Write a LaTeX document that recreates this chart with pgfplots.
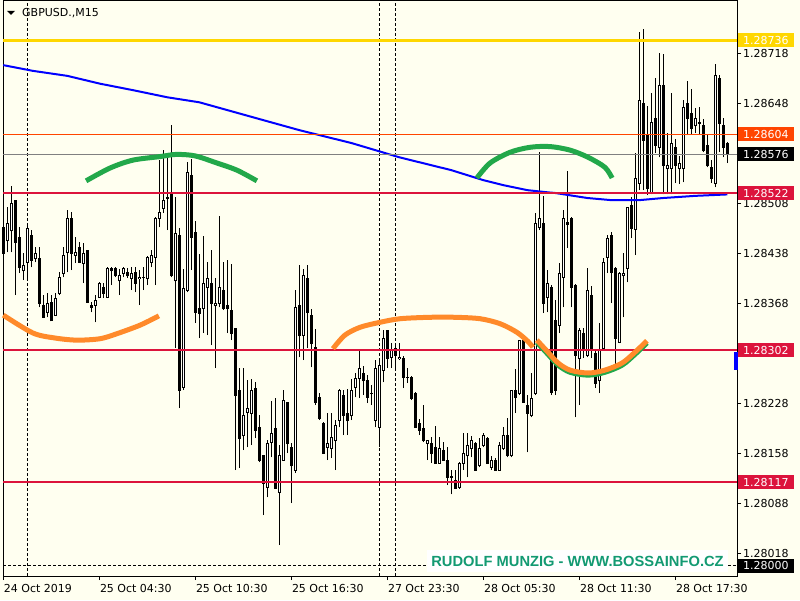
\documentclass[border=0pt]{standalone}
\usepackage{pgfplots}
\pgfplotsset{compat=1.18}
\usepackage{pgfplotstable}
\usepackage{fontspec}
\setmainfont{DejaVu Sans}
\newfontfamily\wmfont{Liberation Sans}
\definecolor{bg}{HTML}{FFFFF0}
\definecolor{mtgold}{HTML}{FFD700}
\definecolor{mtorange}{HTML}{FF4500}
\definecolor{mtcrimson}{HTML}{DC143C}
\definecolor{arcgreen}{HTML}{22A84A}
\definecolor{arcorange}{HTML}{FF8A2A}
\definecolor{wm}{HTML}{139A72}
% prices stored as (price - 1.28) * 100000
\pgfplotstableread{
i o h l c
0 474 477 435 438
1 455 502 439 480
2 469 532 439 508
3 511 512 379 453
4 460 474 410 418
5 413 438 400 421
6 425 477 403 472
7 462 470 418 428
8 430 446 425 437
9 430 446 362 368
10 365 379 347 348
11 355 382 348 368
12 369 379 343 343
13 351 382 350 375
14 381 411 379 404
15 409 446 404 435
16 439 498 411 487
17 487 495 414 438
18 435 460 424 439
19 446 453 424 425
20 424 452 396 438
21 441 442 368 369
22 365 369 355 362
23 365 379 341 372
24 376 397 375 395
25 390 396 375 381
26 376 418 375 416
27 416 418 393 413
28 416 418 404 406
29 399 416 379 406
30 410 418 404 416
31 411 417 403 406
32 402 418 386 410
33 411 418 383 396
34 402 414 365 404
35 404 418 386 404
36 402 434 393 432
37 425 442 418 434
38 432 488 393 487
39 486 568 474 495
40 501 582 494 511
41 516 578 470 514
42 522 617 404 406
43 399 516 305 466
44 462 473 221 246
45 250 416 246 389
46 386 565 383 551
47 547 570 414 460
48 467 483 340 355
49 361 437 319 354
50 360 462 326 395
51 390 425 323 402
52 396 442 309 368
53 364 403 277 368
54 367 490 362 390
55 386 425 358 360
56 364 428 326 361
57 357 423 316 326
58 332 333 134 239
59 245 277 137 179
60 182 277 162 210
61 215 260 166 221
62 214 262 169 245
63 249 257 179 190
64 194 211 145 148
65 154 155 71 116
66 110 176 96 171
67 173 231 152 185
68 193 235 109 109
69 103 169 29 154
70 148 246 148 231
71 229 230 158 171
72 166 172 88 140
73 134 386 130 362
74 365 421 292 322
75 323 416 288 406
76 402 421 305 355
77 351 360 278 311
78 306 332 225 229
79 236 242 204 206
80 200 201 158 158
81 166 214 148 171
82 164 214 151 180
83 175 204 134 197
84 204 248 194 246
85 239 246 183 211
86 213 248 183 203
87 210 262 204 246
88 250 270 236 263
89 262 302 235 277
90 270 280 239 259
91 260 267 228 236
92 241 253 225 241
93 204 288 194 276
94 194 288 166 280
95 274 330 257 319
96 329 330 277 291
97 292 312 277 302
98 305 312 274 295
99 290 312 288 292
100 291 294 249 264
101 264 277 256 264
102 264 266 232 235
103 241 243 193 194
104 199 206 183 190
105 193 225 173 175
106 172 176 148 176
107 172 180 144 158
108 166 196 144 144
109 144 180 144 165
110 161 173 148 148
111 148 166 113 124
112 124 134 100 125
113 120 134 108 109
114 110 145 108 144
115 144 186 134 158
116 154 186 124 169
117 164 182 152 176
118 171 173 133 134
119 140 179 138 165
120 169 186 166 183
121 179 180 144 144
122 138 154 134 148
123 148 151 134 134
124 134 173 134 169
125 164 194 162 183
126 183 207 152 155
127 154 246 152 245
128 245 276 214 236
129 241 316 239 315
130 315 316 229 229
131 225 239 159 214
132 210 270 208 235
133 241 494 239 480
134 474 579 470 486
135 480 518 354 368
136 376 414 355 396
137 390 393 239 243
138 344 372 239 246
139 337 424 326 410
140 404 498 362 486
141 481 553 445 478
142 487 489 362 390
143 393 395 208 295
144 291 333 225 330
145 326 333 291 302
146 295 417 292 386
147 379 392 291 302
148 298 302 249 256
149 259 340 242 302
150 305 431 302 425
151 432 463 410 459
152 462 467 368 411
153 417 418 278 319
154 313 411 312 410
155 406 438 348 410
156 417 502 397 502
157 505 516 459 473
158 471 578 435 543
159 536 747 526 651
160 648 752 526 596
161 602 644 519 528
162 522 662 520 621
163 626 683 578 589
164 586 718 572 672
165 673 717 520 561
166 556 606 520 561
167 556 662 520 592
168 586 598 536 561
169 557 574 535 563
170 557 652 537 642
171 647 679 603 627
172 633 668 605 612
173 616 641 606 627
174 620 642 603 621
175 617 626 579 581
176 588 605 558 560
177 558 568 536 542
178 536 703 530 686
179 682 687 579 620
180 616 627 572 586
181 591 593 564 576
}\candles
\begin{document}
\begin{tikzpicture}[x=1pt,y=1pt]
\path[use as bounding box] (0,0) rectangle (800,600);
\fill[bg] (0,0) rectangle (800,600);
\begin{axis}[
  at={(3pt,24pt)}, anchor=south west,
  scale only axis, width=734pt, height=575pt,
  xmin=-0.075, xmax=183.425, ymin=-14.2, ymax=790.8,
  clip=false,
  axis line style={black, line width=1pt},
  xtick={0,24,48,72,96,120,144,168},
  xticklabels={24 Oct 2019,25 Oct 04:30,25 Oct 10:30,25 Oct 16:30,27 Oct 23:30,28 Oct 05:30,28 Oct 11:30,28 Oct 17:30},
  ytick={18,88,158,228,368,438,508,648,718},
  yticklabels={1.28018,1.28088,1.28158,1.28228,1.28368,1.28438,1.28508,1.28648,1.28718},
  xtick pos=bottom, ytick pos=right, yticklabel pos=right,
  tick align=outside, major tick length=4pt,
  tick style={black, line width=1pt},
  tick label style={font=\fontsize{11}{13}\selectfont, text=black},
  xticklabel style={anchor=north west, xshift=-1.5pt, yshift=-2pt, inner sep=2pt},
  yticklabel style={anchor=west, inner sep=2pt},
]
% period separators
\addplot[black, line width=1pt, dash pattern=on 3pt off 2pt] coordinates {(6,-14.2) (6,790.8)};
\addplot[black, line width=1pt, dash pattern=on 3pt off 2pt] coordinates {(94,-14.2) (94,790.8)};
\addplot[black, line width=1pt, dash pattern=on 3pt off 2pt] coordinates {(98,-14.2) (98,790.8)};
\addplot[black, line width=1pt, dash pattern=on 3pt off 2pt] coordinates {(-0.075,0) (183.425,0)};
% wicks
\addplot[draw=none, mark=none, error bars/.cd, y dir=plus, y explicit, error mark=none,
  error bar style={draw=black, solid, line width=1pt}]
  table[x=i, y=l, y error plus expr={\thisrow{h}-\thisrow{l}}] {\candles};
% bodies (outline / bearish fill)
\addplot[draw=none, mark=none, error bars/.cd, y dir=plus, y explicit, error mark=none,
  error bar style={draw=black, solid, line width=3.4pt}]
  table[x=i, y expr={min(\thisrow{o},\thisrow{c})-0.7}, y error plus expr={abs(\thisrow{c}-\thisrow{o})+1.4}] {\candles};
% bullish bodies hollow
\addplot[draw=none, mark=none, error bars/.cd, y dir=plus, y explicit, error mark=none,
  error bar style={draw=white, solid, line width=1.4pt}]
  table[x=i, y expr={min(\thisrow{o},\thisrow{c})+0.7}, y error plus expr={max(\thisrow{c}-\thisrow{o}-1.4,0)}] {\candles};
% moving average
\addplot[blue, line width=2pt] coordinates {(0,701) (7.4,693) (16,686) (24.2,675) (32.4,666) (41,656) (49,649) (65,624) (74,610) (87,592) (99,572) (112,554) (120,540) (125,533) (131,526) (136,523) (138,522) (146,515) (152,512) (159,512) (165,515) (173,518) (181,520)};
% horizontal levels
\addplot[mtgold, line width=3pt] coordinates {(-0.075,736) (183.425,736)};
\addplot[mtorange, line width=1pt] coordinates {(-0.075,604) (183.425,604)};
\addplot[gray, line width=1pt] coordinates {(-0.075,576) (183.425,576)};
\addplot[mtcrimson, line width=2pt] coordinates {(-0.075,522) (183.425,522)};
\addplot[mtcrimson, line width=2pt] coordinates {(-0.075,302) (183.425,302)};
\addplot[mtcrimson, line width=2pt] coordinates {(-0.075,117) (183.425,117)};
% arcs
\addplot[arcgreen, line width=5pt, smooth] coordinates {(20.7,539) (26.7,557) (32.4,568) (39.2,573) (43.2,576) (47.9,574) (53.4,564) (58.4,554) (63.4,539)};
\addplot[arcgreen, line width=5pt, smooth] coordinates {(118.4,543) (121.7,564) (126.7,579) (131.7,586) (136.7,587) (141.7,582) (146.2,572) (150.4,558) (152.2,543)};
\addplot[arcorange, line width=5pt, smooth] coordinates {(0,351) (7.4,326) (12.9,319) (18.4,316) (24.2,318) (28.4,325) (34.2,337) (38.9,350)};
\addplot[arcorange, line width=5pt, smooth] coordinates {(82.4,304) (85.4,323) (89.2,334) (94.2,341) (99.2,346) (106.7,348) (112.9,348) (119.2,346) (124.2,339) (128.4,327) (131.2,314) (132.4,306)};
\addplot[arcgreen, line width=5pt, smooth] coordinates {(133.4,313) (136.2,296) (138.7,281) (141.7,271) (146.2,267) (150.4,271) (154.7,281) (157.9,296) (160.9,312)};
\addplot[arcorange, line width=5pt, smooth] coordinates {(133.4,316) (136.2,299) (138.7,284) (141.7,274) (146.2,270) (150.4,274) (154.7,284) (157.9,299) (160.9,315)};
% ask marker
\fill[blue] (axis cs:182.7,299) rectangle (axis cs:183.7,274);
% price boxes
\begin{scope}[every node/.style={anchor=west, text=white, inner xsep=5pt, inner ysep=0pt, minimum height=14pt, font=\fontsize{11}{13}\selectfont}]
\node[fill=mtgold] at ([xshift=1pt]axis cs:183.425,736) {1.28736};
\node[fill=mtorange] at ([xshift=1pt]axis cs:183.425,604) {1.28604};
\node[fill=black] at ([xshift=1pt]axis cs:183.425,576) {1.28576};
\node[fill=mtcrimson] at ([xshift=1pt]axis cs:183.425,522) {1.28522};
\node[fill=mtcrimson] at ([xshift=1pt]axis cs:183.425,302) {1.28302};
\node[fill=mtcrimson] at ([xshift=1pt]axis cs:183.425,117) {1.28117};
\node[fill=black] at ([xshift=1pt]axis cs:183.425,0) {1.28000};
\end{scope}
% title
\fill[black] (axis cs:0.925,777) -- (axis cs:2.925,777) -- (axis cs:1.925,771.5) -- cycle;
\node[anchor=base west, inner sep=0pt, font=\fontsize{11}{13}\selectfont] at (axis cs:4.675,768.4) {GBPUSD.,M15};
% watermark
\node[fill=white, text=wm, inner sep=0pt, minimum width=301pt, minimum height=22pt,
  font=\wmfont\bfseries\fontsize{14.7}{15}\selectfont] at (axis cs:143.55,6.8) {RUDOLF MUNZIG - WWW.BOSSAINFO.CZ};
\end{axis}
\end{tikzpicture}
\end{document}
